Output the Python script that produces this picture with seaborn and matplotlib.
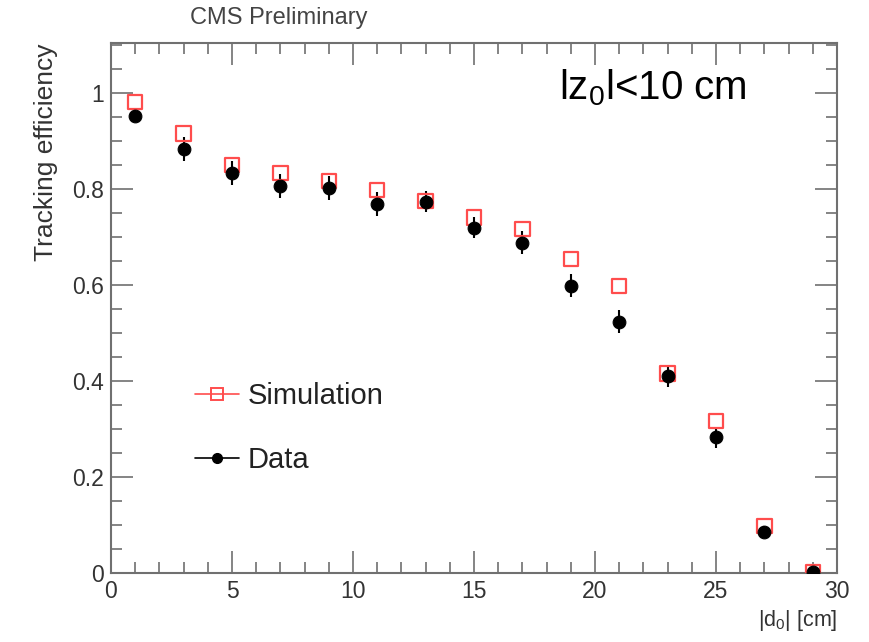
import numpy as np
import pandas as pd
import matplotlib
matplotlib.use("Agg")
import matplotlib.pyplot as plt
from matplotlib.lines import Line2D
from matplotlib.ticker import MultipleLocator
import seaborn as sns

# values
d0 = [1, 3, 5, 7, 9, 11, 13, 15, 17, 19, 21, 23, 25, 27, 29]
eff_sim = [0.981, 0.915, 0.850, 0.833, 0.817, 0.798, 0.775, 0.740, 0.717,
           0.654, 0.598, 0.415, 0.317, 0.098, 0.002]
eff_data = [0.952, 0.883, 0.833, 0.806, 0.802, 0.769, 0.773, 0.719, 0.688,
            0.598, 0.523, 0.410, 0.283, 0.085, 0.002]
err_data = [0.012, 0.025, 0.025, 0.025, 0.025, 0.025, 0.022, 0.022, 0.024,
            0.024, 0.024, 0.022, 0.022, 0.012, 0.005]

df = pd.DataFrame({"d0": d0, "Simulation": eff_sim, "Data": eff_data, "err": err_data})

sns.set_style("ticks")
plt.rcParams["font.family"] = ["Liberation Sans", "DejaVu Sans"]
plt.rcParams["mathtext.fontset"] = "custom"
plt.rcParams["mathtext.rm"] = "Liberation Sans"
plt.rcParams["mathtext.it"] = "Liberation Sans"

frame = "#707070"
red = "#ff4d4d"

fig = plt.figure(figsize=(8.69, 6.42), dpi=100)
ax = fig.add_axes([0.1277, 0.1075, 0.8355, 0.8255])

# data error bars
ax.errorbar(df["d0"], df["Data"], yerr=df["err"], fmt="none", ecolor="black",
            elinewidth=1.5, capsize=0, zorder=2)
# simulation: open red squares
sns.scatterplot(data=df, x="d0", y="Simulation", ax=ax, marker="s", s=110,
                facecolor="none", edgecolor=red, linewidth=1.6, zorder=3)
# data: black dots
sns.scatterplot(data=df, x="d0", y="Data", ax=ax, marker="o", s=85,
                color="black", edgecolor="black", zorder=4)

ax.set_xlim(0, 30)
ax.set_ylim(0, 1.104)
ax.xaxis.set_major_locator(MultipleLocator(5))
ax.xaxis.set_minor_locator(MultipleLocator(1))
ax.yaxis.set_major_locator(MultipleLocator(0.2))
ax.yaxis.set_minor_locator(MultipleLocator(0.05))
ax.set_xticks([0, 5, 10, 15, 20, 25, 30])
ax.set_xticklabels(["0", "5", "10", "15", "20", "25", "30"])
ax.set_yticks([0, 0.2, 0.4, 0.6, 0.8, 1.0])
ax.set_yticklabels(["0", "0.2", "0.4", "0.6", "0.8", "1"])
ax.tick_params(which="both", direction="in", top=True, right=True,
               colors=frame, labelcolor="#333333", labelsize=16.5, width=1.2)
ax.tick_params(which="major", length=16)
ax.tick_params(which="minor", length=8)
ax.tick_params(axis="x", pad=5)
ax.tick_params(axis="y", pad=5)
for sp in ax.spines.values():
    sp.set_color(frame)
    sp.set_linewidth(1.5)

ax.set_xlabel(r"|d$_0$| [cm]", fontsize=15.5, color="#333333", loc="right")
ax.set_ylabel("Tracking efficiency", fontsize=19, color="#333333", loc="top",
              labelpad=10)

fig.text(0.321, 0.972, "CMS Preliminary", fontsize=17, color="#444444",
         ha="center", va="center")
ax.text(0.617, 0.915, r"lz$_0$l<10 cm", transform=ax.transAxes, fontsize=29,
        color="black", ha="left", va="center")

handles = [
    Line2D([0], [0], color=red, lw=1.2, marker="s", markersize=8,
           markerfacecolor="none", markeredgecolor=red, markeredgewidth=1.4),
    Line2D([0], [0], color="black", lw=1.2, marker="o", markersize=7,
           markerfacecolor="black"),
]
ax.legend(handles, ["Simulation", "Data"], loc="upper left",
          bbox_to_anchor=(0.08, 0.41), frameon=False, fontsize=21,
          handlelength=1.5, handletextpad=0.3, labelspacing=1.25,
          labelcolor="#222222")

sns.despine(ax=ax, top=False, right=False)
fig.savefig("out.png", dpi=100)
